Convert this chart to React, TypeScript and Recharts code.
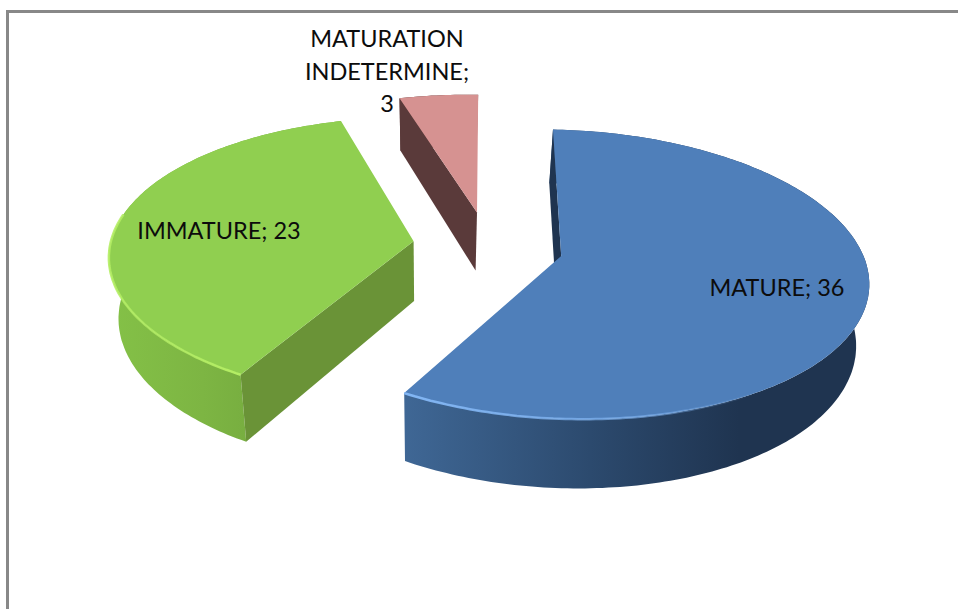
import React from 'react';
import { PieChart, Pie } from 'recharts';

const categories = ['MATURE', 'IMMATURE', 'MATURATION INDETERMINE'];
const counts = [36, 23, 3];

const topColors = ['#4f7fba', '#90cf50', '#d69291'];
const edgeColors = ['#1f3450', '#6a9337', '#5a3a3a'];
const wallStops = [
    ['#3f6795', '#2c4a6e', '#1f3450', '#1f3450'],
    ['#84c147', '#7db543', '#74aa3e', '#7cb543'],
    ['#5a3a3a', '#5a3a3a', '#5a3a3a', '#5a3a3a'],
];
const rimColors = ['#82b6f4', '#b4ee64', ''];
// highlight on the rim: degrees from the lower corner, signed for the side it runs to
const rimSpans = [62, -70, 0];

const labelAnchors = [
    { x: 777, y: 296 },
    { x: 219, y: 239 },
    { x: 387, y: 47 },
];

const tableData = categories.map((name, i) => ({ name, value: counts[i] }));

const WIDTH = 958;
const HEIGHT = 609;
const CX = 488;
const CY = 246;
const RADIUS = 302;
const EXPLODE = 75;
const TILT = 0.464;
const PERSPECTIVE = 0.125;
const ROLL = 0.018;
const DEPTH = 60;
const DEPTH_SHRINK = 0.03;
const VANISH_X = 430;

const rad = (deg: number) => (deg * Math.PI) / 180;

// pie plane to screen: x/y in the plane, z is 0 on the top face and 1 on the bottom
const project = (x: number, y: number, z: number, R: number) => {
    const p = 1 / (1 - (PERSPECTIVE * y) / R);
    const sx = CX + x * p;
    return [
        sx + z * DEPTH_SHRINK * (VANISH_X - sx),
        CY + y * TILT * p + z * DEPTH * p + ROLL * (sx - CX),
    ];
};

const toPath = (pts: number[][]) =>
    pts.map((q, i) => `${i ? 'L' : 'M'}${q[0].toFixed(1)},${q[1].toFixed(1)}`).join('');

const signedArea = (pts: number[][]) =>
    pts.reduce((sum, q, i) => {
        const n = pts[(i + 1) % pts.length];
        return sum + q[0] * n[1] - n[0] * q[1];
    }, 0);

const Slice3D = (props: any) => {
    const { startAngle, endAngle, outerRadius: R, payload } = props;
    const i = categories.indexOf(payload.name);
    const mid = rad((startAngle + endAngle) / 2);
    const ox = EXPLODE * Math.cos(mid);
    const oy = -EXPLODE * Math.sin(mid);

    const rimPoint = (deg: number, z: number) =>
        project(ox + R * Math.cos(rad(deg)), oy - R * Math.sin(rad(deg)), z, R);
    const apex = (z: number) => project(ox, oy, z, R);

    const steps = Math.max(8, Math.round(Math.abs(endAngle - startAngle)));
    const arc = (z: number) =>
        Array.from({ length: steps + 1 }, (_, s) =>
            rimPoint(startAngle + ((endAngle - startAngle) * s) / steps, z)
        );

    const top = arc(0);
    const bottom = arc(1);
    const outerWall = [...top, ...[...bottom].reverse()];
    const startWall = [apex(0), top[0], bottom[0], apex(1)];
    const endWall = [apex(0), top[steps], bottom[steps], apex(1)];

    // the cut faces only show when they turn towards the viewer
    const showStart = signedArea(startWall) < 0;
    const showEnd = signedArea(endWall) > 0;

    const span = rimSpans[i];
    const rimFrom = span > 0 ? endAngle : startAngle;
    const rim = Array.from({ length: Math.abs(span) + 1 }, (_, s) =>
        rimPoint(rimFrom + Math.sign(span) * s, 0)
    );

    return (
        <g>
            <defs>
                <linearGradient id={`wall-${i}`} x1="0" y1="0" x2="1" y2="0">
                    <stop offset="0" stopColor={wallStops[i][0]} />
                    <stop offset="0.4" stopColor={wallStops[i][1]} />
                    <stop offset="0.72" stopColor={wallStops[i][2]} />
                    <stop offset="1" stopColor={wallStops[i][3]} />
                </linearGradient>
                {span !== 0 && (
                    <linearGradient
                        id={`rim-${i}`}
                        x1={span > 0 ? '0' : '1'}
                        y1="0"
                        x2={span > 0 ? '1' : '0'}
                        y2="0"
                    >
                        <stop offset="0" stopColor={rimColors[i]} />
                        <stop offset="0.7" stopColor={rimColors[i]} stopOpacity={span > 0 ? 0.6 : 0.75} />
                        <stop offset="1" stopColor={rimColors[i]} stopOpacity={span > 0 ? 0 : 0.9} />
                    </linearGradient>
                )}
            </defs>
            <path d={toPath(outerWall) + 'Z'} fill={`url(#wall-${i})`} />
            {showStart && <path d={toPath(startWall) + 'Z'} fill={edgeColors[i]} />}
            {showEnd && <path d={toPath(endWall) + 'Z'} fill={edgeColors[i]} />}
            <path d={toPath([apex(0), ...top]) + 'Z'} fill={topColors[i]} />
            {span !== 0 && (
                <path d={toPath(rim)} fill="none" stroke={`url(#rim-${i})`} strokeWidth={2.5} />
            )}
        </g>
    );
};

const renderLabel = (props: any) => {
    const i = props.index;
    const name = categories[i];
    const lines = i === 2 ? ['MATURATION', 'INDETERMINE;', String(counts[i])] : [`${name}; ${counts[i]}`];
    return (
        <text
            key={name}
            x={labelAnchors[i].x}
            y={labelAnchors[i].y}
            textAnchor="middle"
            fontFamily="Lato, 'Open Sans', sans-serif"
            fontSize={23.5}
            fill="#0c0c0c"
        >
            {lines.map((line, n) => (
                <tspan key={line} x={labelAnchors[i].x} dy={n ? 32.5 : 0}>
                    {line}
                </tspan>
            ))}
        </text>
    );
};

export default function App() {
    return (
        <div
            style={{
                position: 'absolute',
                left: 0,
                top: 0,
                width: WIDTH,
                height: HEIGHT,
                overflow: 'hidden',
                background: '#fff',
            }}
        >
            <div
                style={{
                    position: 'absolute',
                    left: 6,
                    top: 10,
                    right: 0,
                    bottom: 0,
                    borderLeft: '3px solid #888',
                    borderTop: '3px solid #888',
                }}
            />
            <PieChart
                width={WIDTH}
                height={HEIGHT}
                style={{ position: 'absolute', left: 0, top: 0 }}
                margin={{ top: 0, right: 0, bottom: 0, left: 0 }}
            >
                <Pie
                    data={tableData}
                    dataKey="value"
                    nameKey="name"
                    cx={CX}
                    cy={CY}
                    innerRadius={0}
                    outerRadius={RADIUS}
                    startAngle={90}
                    endAngle={-270}
                    stroke="none"
                    shape={Slice3D}
                    label={renderLabel}
                    labelLine={false}
                    isAnimationActive={false}
                />
            </PieChart>
        </div>
    );
}
